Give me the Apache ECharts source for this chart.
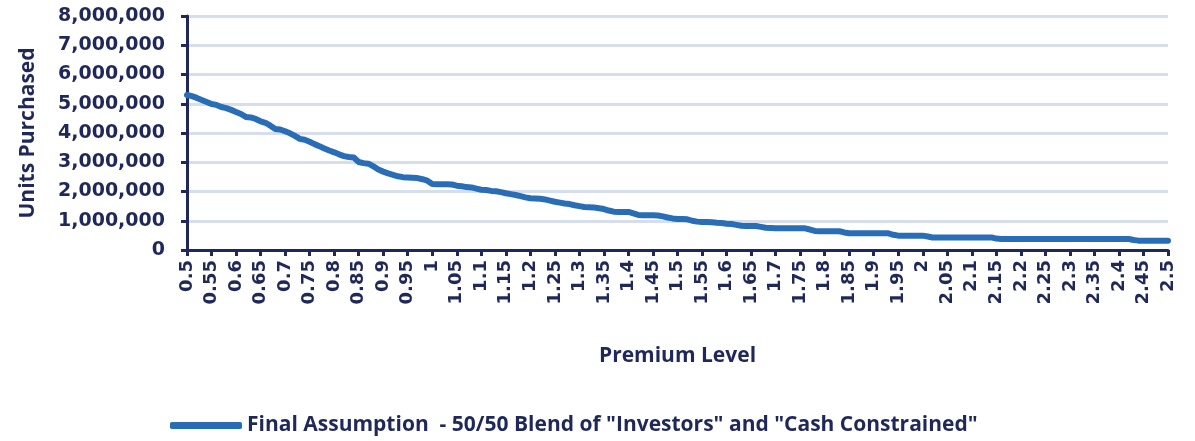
<!DOCTYPE html>
<html>
<head>
<meta charset="utf-8">
<script src="https://cdn.jsdelivr.net/npm/echarts@6/dist/echarts.min.js"></script>
<style>
  html, body { margin: 0; padding: 0; background: #ffffff; }
  #chart { width: 1195px; height: 441px; }
</style>
</head>
<body>
<div id="chart"></div>
<script>
// Premium levels 0.50 .. 2.50 in steps of 0.01
const premiumLevels = [];
for (let i = 0; i <= 200; i++) {
  premiumLevels.push(String(Number((0.5 + i * 0.01).toFixed(2))));
}

// Units purchased (thousands), one row per 0.10 of premium level
const units050 = [5300, 5260, 5200, 5130, 5060, 4990, 4960, 4890, 4850, 4790];
const units060 = [4720, 4650, 4550, 4530, 4480, 4400, 4350, 4250, 4140, 4120];
const units070 = [4060, 3990, 3900, 3800, 3770, 3700, 3620, 3550, 3470, 3400];
const units080 = [3340, 3270, 3210, 3180, 3160, 3010, 2970, 2950, 2860, 2750];
const units090 = [2680, 2620, 2570, 2520, 2490, 2480, 2470, 2460, 2420, 2370];
const units100 = [2260, 2250, 2250, 2250, 2240, 2200, 2180, 2150, 2140, 2100];
const units110 = [2060, 2050, 2020, 2010, 1980, 1940, 1910, 1880, 1840, 1800];
const units120 = [1770, 1760, 1750, 1730, 1690, 1650, 1620, 1590, 1570, 1530];
const units130 = [1500, 1470, 1460, 1450, 1430, 1400, 1350, 1310, 1300, 1300];
const units140 = [1300, 1250, 1200, 1190, 1190, 1190, 1180, 1150, 1110, 1080];
const units150 = [1060, 1060, 1050, 1000, 970, 960, 960, 950, 930, 920];
const units160 = [900, 890, 860, 830, 820, 820, 820, 790, 760, 750];
const units170 = [740, 740, 740, 740, 740, 740, 740, 700, 650, 640];
const units180 = [640, 640, 640, 640, 600, 570, 570, 570, 570, 570];
const units190 = [570, 570, 570, 570, 520, 490, 490, 490, 490, 490];
const units200 = [490, 460, 430, 430, 430, 430, 430, 430, 430, 430];
const units210 = [430, 430, 430, 430, 430, 390, 375, 375, 375, 375];
const units220 = [375, 375, 375, 375, 375, 375, 375, 375, 375, 375];
const units230 = [375, 375, 375, 375, 375, 375, 375, 375, 375, 375];
const units240 = [375, 375, 375, 340, 320, 320, 320, 320, 320, 320];
const units250 = [320];

const unitsThousands = [].concat(
  units050, units060, units070, units080, units090,
  units100, units110, units120, units130, units140,
  units150, units160, units170, units180, units190,
  units200, units210, units220, units230, units240, units250
);
const unitsPurchased = unitsThousands.map(v => v * 1000);

const seriesName = 'Final Assumption  - 50/50 Blend of "Investors" and "Cash Constrained"';

const navy = '#1f2858';
const axisFont = 'DejaVu Sans';
const titleFont = 'Open Sans';

const chart = echarts.init(document.getElementById('chart'), null, { renderer: 'canvas' });

chart.setOption({
  animation: false,
  backgroundColor: '#ffffff',
  grid: { left: 187, right: 27, top: 16, bottom: 191, containLabel: false },
  xAxis: {
    type: 'category',
    data: premiumLevels,
    boundaryGap: false,
    name: 'Premium Level',
    nameLocation: 'middle',
    nameGap: 96,
    nameTextStyle: { color: navy, fontFamily: titleFont, fontWeight: 'bold', fontSize: 21 },
    axisLine: { lineStyle: { color: navy, width: 3 } },
    axisTick: { show: true, interval: 4, length: 6, lineStyle: { color: navy, width: 3 } },
    axisLabel: {
      interval: 4,
      rotate: 90,
      margin: 10,
      color: navy,
      fontFamily: axisFont,
      fontWeight: 'bold',
      fontSize: 18
    },
    splitLine: { show: false }
  },
  yAxis: {
    type: 'value',
    min: 0,
    max: 8000000,
    interval: 1000000,
    name: 'Units Purchased',
    nameLocation: 'middle',
    nameGap: 148,
    nameRotate: 90,
    nameTextStyle: { color: navy, fontFamily: titleFont, fontWeight: 'bold', fontSize: 21 },
    axisLine: { show: true, lineStyle: { color: navy, width: 3 } },
    axisTick: { show: true, length: 6, lineStyle: { color: navy, width: 3 } },
    axisLabel: {
      margin: 22,
      color: navy,
      fontFamily: axisFont,
      fontWeight: 'bold',
      fontSize: 19,
      formatter: v => v.toLocaleString('en-US')
    },
    splitLine: { show: true, lineStyle: { color: '#d6deec', width: 3 } }
  },
  legend: {
    bottom: 0,
    left: 165,
    itemWidth: 72,
    itemHeight: 7,
    itemGap: 10,
    icon: 'roundRect',
    textStyle: { color: navy, fontFamily: titleFont, fontWeight: 'bold', fontSize: 21 },
    data: [seriesName]
  },
  series: [{
    name: seriesName,
    type: 'line',
    data: unitsPurchased,
    showSymbol: false,
    symbol: 'none',
    lineStyle: { color: '#2a6db7', width: 6, cap: 'round', join: 'round' },
    itemStyle: { color: '#2a6db7' }
  }]
});
</script>
</body>
</html>
